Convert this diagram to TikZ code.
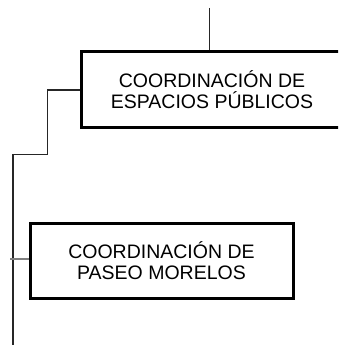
\documentclass[tikz,border=0pt]{standalone}
\usepackage{fontspec}
\setmainfont{Liberation Sans}
\begin{document}
\begin{tikzpicture}[
    x=1pt, y=-1pt,
    font=\fontsize{19.5}{21}\selectfont,
    unit box/.style={
        draw=black, line width=3pt, minimum width=262pt,
        minimum height=75pt, align=center, inner sep=0pt,
        text=black
    },
    link line/.style={draw=black!85, line width=1.3pt}
]
    \useasboundingbox (0,0) rectangle (338,345);
    \clip (0,0) rectangle (338,345);

    \node[unit box] (espacios) at (212,89.5)
        {COORDINACIÓN DE\\ESPACIOS PÚBLICOS};
    \node[unit box, minimum width=263pt] (paseo) at (161.5,260.5)
        {COORDINACIÓN DE\\PASEO MORELOS};

    \coordinate (arriba) at (209.5,8);
    \coordinate (codo1) at (47.5,90);
    \coordinate (codo2) at (13,154.5);
    \coordinate (abajo) at (13,345);
    \coordinate (rama) at (10,259);

    \draw[link line] (arriba) -- (espacios.north -| arriba);
    \draw[link line] (espacios.west |- codo1) -| (codo1 |- codo2) -| (abajo);
    \draw[draw=black!50, line width=1.3pt] (rama) -- (paseo.west |- rama);

\end{tikzpicture}
\end{document}
